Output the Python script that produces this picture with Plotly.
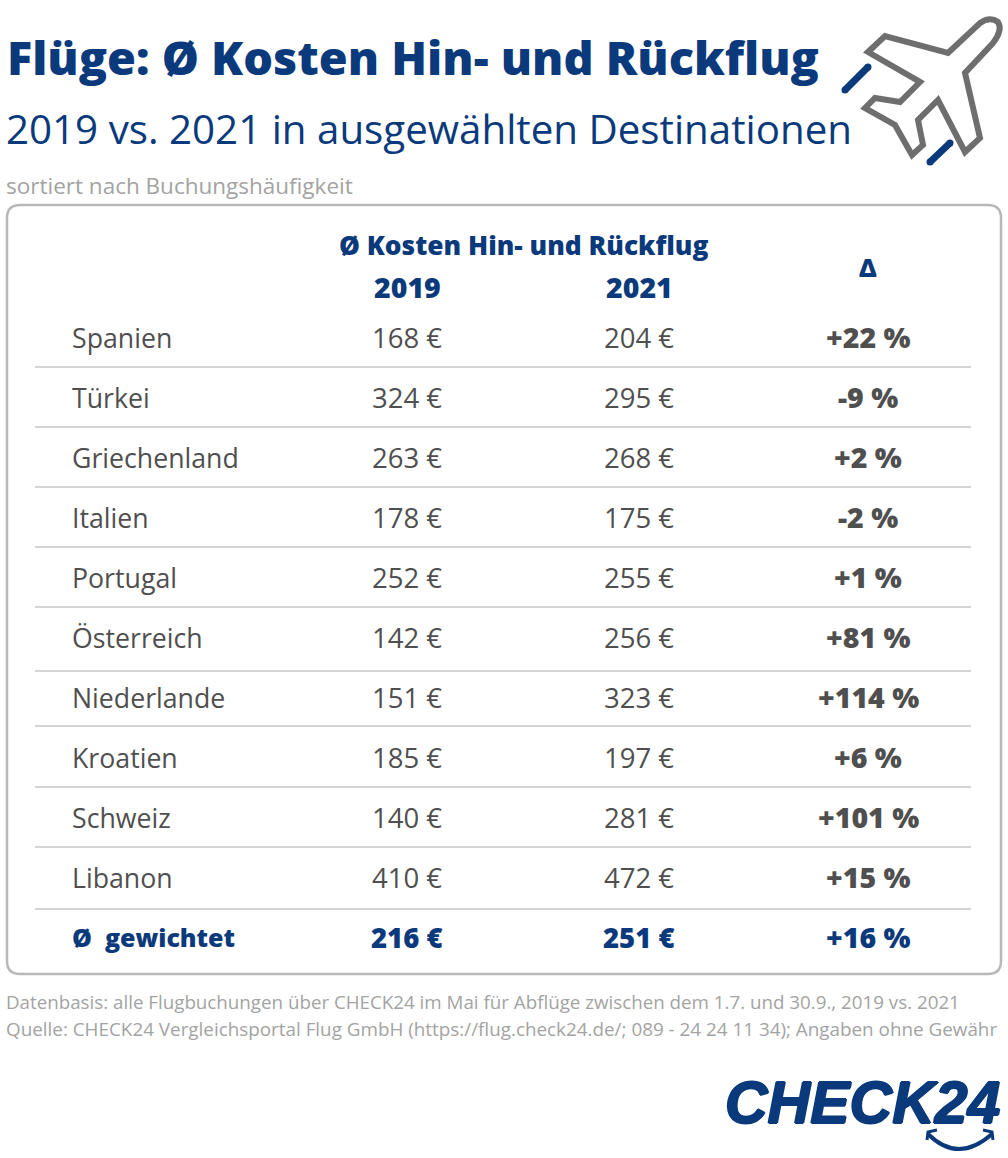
import plotly.graph_objects as go

# Daten
laender = ["Spanien", "Türkei", "Griechenland", "Italien", "Portugal", "Österreich",
           "Niederlande", "Kroatien", "Schweiz", "Libanon"]
kosten_2019 = [168, 324, 263, 178, 252, 142, 151, 185, 140, 410]
kosten_2021 = [204, 295, 268, 175, 255, 256, 323, 197, 281, 472]
delta = ["+22", "-9", "+2", "-2", "+1", "+81", "+114", "+6", "+101", "+15"]
schnitt_label = "Ø  gewichtet"
schnitt_2019 = 216
schnitt_2021 = 251
schnitt_delta = "+16"

NAVY = "#0b3a7c"
TEXT = "#4f4f4f"
GREY = "#a3a3a3"
FONT = "Open Sans"

zeilen_y = [337 + 60 * i for i in range(11)]
trenner_y = [367, 427, 487, 547, 607, 671, 726, 787, 847, 909]

fig = go.Figure()


def label(x, y, text, size, color=TEXT, weight=400, anchor="center", family=FONT):
    fig.add_annotation(x=x, y=y, text=text, showarrow=False, xanchor=anchor, yanchor="middle",
                       font=dict(family=family, size=size, color=color, weight=weight))


# Karte
fig.add_shape(type="path", line=dict(color="#b8b8b8", width=2.5), fillcolor="white",
              path="M 20 205 L 988 205 Q 1001 205 1001 218 L 1001 961 Q 1001 974 988 974 "
                   "L 20 974 Q 7 974 7 961 L 7 218 Q 7 205 20 205 Z")

# Titel
label(5, 57, "Flüge: Ø Kosten Hin- und Rückflug", 46.8, NAVY, 800, "left")
label(4, 128, "2019 vs. 2021 in ausgewählten Destinationen", 40.3, NAVY, 400, "left")
label(4, 185, "sortiert nach Buchungshäufigkeit", 22.5, GREY, 400, "left")

# Kopfzeile
label(523, 245, "Ø Kosten Hin- und Rückflug", 26.3, NAVY, 800)
label(407, 287, "2019", 28.5, NAVY, 800)
label(639, 287, "2021", 28.5, NAVY, 800)
label(868, 267, "Δ", 25, NAVY, 800)

# Zeilen
for i, land in enumerate(laender):
    y = zeilen_y[i]
    label(70, y, land, 26.7, TEXT, 400, "left")
    label(407, y, f"{kosten_2019[i]} €", 27.5, TEXT)
    label(639, y, f"{kosten_2021[i]} €", 27.5, TEXT)
    label(868, y, f"{delta[i]} %", 28.5, TEXT, 800)

y = zeilen_y[10]
label(70, y, schnitt_label.replace(" ", "\u00a0"), 25, NAVY, 800, "left")
label(407, y, f"{schnitt_2019} €", 27.5, NAVY, 800)
label(639, y, f"{schnitt_2021} €", 27.5, NAVY, 800)
label(868, y, f"{schnitt_delta} %", 28.5, NAVY, 800)

for y in trenner_y:
    fig.add_shape(type="line", x0=35, x1=971, y0=y, y1=y, line=dict(color="#d4d4d4", width=2))

# Fussnoten
label(4, 1001, "Datenbasis: alle Flugbuchungen über CHECK24 im Mai für Abflüge zwischen dem 1.7. und 30.9., 2019 vs. 2021",
      18.75, GREY, 400, "left")
label(4, 1029, "Quelle: CHECK24 Vergleichsportal Flug GmbH (https://flug.check24.de/; 089 - 24 24 11 34); Angaben ohne Gewähr",
      18.85, GREY, 400, "left")

# Flugzeug
fig.add_shape(type="path", line=dict(color="#6e6e6e", width=6),
              path="M 998 22 Q 990 16 980 23 L 948 53 L 885 36 L 868 52 L 920 82 L 900 102 "
                   "L 875 98 L 865 108 L 895 125 L 912 155 L 923 145 L 918 120 L 938 100 "
                   "L 965 152 L 980 138 L 965 73 L 993 43 Q 1003 30 998 22 Z")
for xs, ys in [([845, 868], [90, 67]), ([930, 950], [162, 143])]:
    fig.add_trace(go.Scatter(x=xs, y=ys, mode="lines+markers", hoverinfo="skip",
                             line=dict(color=NAVY, width=7), marker=dict(color=NAVY, size=7)))

# Logo
logo_schatten = f"1px 0 0 {NAVY}, -1px 0 0 {NAVY}, 0 1px 0 {NAVY}, 0 -1px 0 {NAVY}"
fig.add_annotation(x=862.5, y=1103, text="<b><i>CHECK24</i></b>", showarrow=False, xanchor="center", yanchor="middle",
                   font=dict(family="Liberation Sans", size=59, color=NAVY, shadow=logo_schatten))
fig.add_shape(type="path", line=dict(color=NAVY, width=4),
              path="M 928 1134 Q 958 1164 992 1134")
fig.add_shape(type="path", line=dict(color=NAVY, width=3), path="M 927 1140 L 928 1132 L 937 1130")
fig.add_shape(type="path", line=dict(color=NAVY, width=3), path="M 993 1140 L 992 1132 L 983 1130")

fig.update_layout(
    width=1008, height=1158, margin=dict(l=0, r=0, t=0, b=0),
    paper_bgcolor="white", plot_bgcolor="white", showlegend=False,
    xaxis=dict(range=[0, 1008], visible=False, fixedrange=True),
    yaxis=dict(range=[1158, 0], visible=False, fixedrange=True),
)

# Seitenrand des Browsers entfernen
fig.write_html("out.html", config={"displayModeBar": False},
               post_script="document.body.style.margin='0';document.body.style.overflow='hidden';")
